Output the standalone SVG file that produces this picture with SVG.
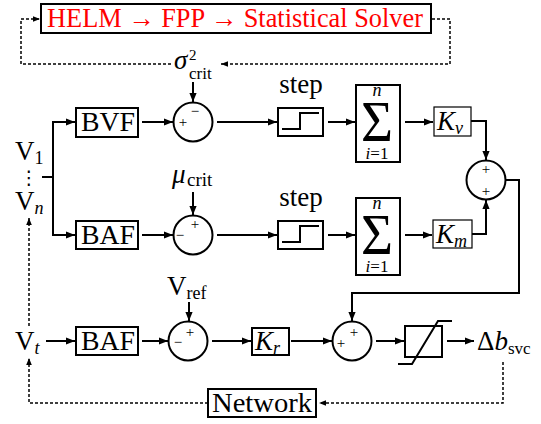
<svg xmlns="http://www.w3.org/2000/svg" width="541" height="424" viewBox="0 0 541 424">
<style>
.box{fill:#fff;stroke:#000;stroke-width:2}
.thin{stroke-width:1.2}
.ln{fill:none;stroke:#000;stroke-width:2}
.dash{fill:none;stroke:#000;stroke-width:1.5;stroke-dasharray:3 2}
.t{font-family:"Liberation Serif",serif;font-size:27px;fill:#000}
.s{font-size:18px}
.i{font-style:italic}
.sg{font-family:"Liberation Serif",serif;font-size:15px;fill:#000;text-anchor:middle}
.m{text-anchor:middle}
.big{font-size:56px}
.lim{font-size:17px}
</style>
<defs>
<marker id="ah" viewBox="0 0 10 8" refX="10" refY="4" markerWidth="9" markerHeight="7.2" markerUnits="userSpaceOnUse" orient="auto"><path d="M0,0 L10,4 L0,8 z" fill="#000"/></marker>
<marker id="ahd" viewBox="0 0 10 8" refX="10" refY="4" markerWidth="7" markerHeight="5.6" markerUnits="userSpaceOnUse" orient="auto"><path d="M0,0 L10,4 L0,8 z" fill="#000"/></marker>
</defs>

<g id="connectors">
<path class="ln" d="M42,177 H53"/>
<path class="ln" d="M53,177 V122 H75" marker-end="url(#ah)"/>
<path class="ln" d="M53,177 V235 H75" marker-end="url(#ah)"/>
<path class="ln" d="M142,122 H173" marker-end="url(#ah)"/>
<path class="ln" d="M217,122 H277" marker-end="url(#ah)"/>
<path class="ln" d="M328,122 H355" marker-end="url(#ah)"/>
<path class="ln" d="M405,122 H433" marker-end="url(#ah)"/>
<path class="ln" d="M471,121 H486 V160" marker-end="url(#ah)"/>
<path class="ln" d="M193,82 V102" marker-end="url(#ah)"/>
<path class="ln" d="M142,235 H173" marker-end="url(#ah)"/>
<path class="ln" d="M193,192 V215" marker-end="url(#ah)"/>
<path class="ln" d="M217,235 H277" marker-end="url(#ah)"/>
<path class="ln" d="M328,235 H355" marker-end="url(#ah)"/>
<path class="ln" d="M405,235 H432" marker-end="url(#ah)"/>
<path class="ln" d="M472,234 H486 V200" marker-end="url(#ah)"/>
<path class="ln" d="M505,180 H519 V293 H352 V321" marker-end="url(#ah)"/>
<path class="ln" d="M46,341 H75" marker-end="url(#ah)"/>
<path class="ln" d="M142,341 H168" marker-end="url(#ah)"/>
<path class="ln" d="M189,302 V321" marker-end="url(#ah)"/>
<path class="ln" d="M212,341 H251" marker-end="url(#ah)"/>
<path class="ln" d="M291,341 H332" marker-end="url(#ah)"/>
<path class="ln" d="M376,341 H404" marker-end="url(#ah)"/>
<path class="ln" d="M447,341 H474" marker-end="url(#ah)"/>
<path class="dash" d="M432,19 H450 V64 H221" marker-end="url(#ahd)"/>
<path class="dash" d="M171,64 H21 V19 H40" marker-end="url(#ahd)"/>
<path class="dash" d="M503,362 V403 H319" marker-end="url(#ahd)"/>
<path class="dash" d="M208,403 H29 V358" marker-end="url(#ahd)"/>
<path class="dash" d="M29,326 V218" marker-end="url(#ahd)"/>
</g>

<g id="solver">
<rect class="box" x="41" y="4" width="390" height="29"/>
<text class="t" x="47" y="27" style="fill:#ff0000" textLength="376" lengthAdjust="spacingAndGlyphs">HELM → FPP → Statistical Solver</text>
</g>

<g id="sigma-crit">
<text class="t" x="174" y="69"><tspan class="i">σ</tspan><tspan x="189" y="60" style="font-size:15px">2</tspan><tspan x="189" y="79" style="font-size:17px">crit</tspan></text>
</g>

<g id="v-inputs">
<text class="t" x="15" y="160">V<tspan class="s" dy="4">1</tspan></text>
<text x="29" y="184" style="font-family:'DejaVu Sans',sans-serif;font-size:19px;text-anchor:middle">⋮</text>
<text class="t" x="15" y="210">V<tspan class="s i" dy="4">n</tspan></text>
</g>

<g id="bvf">
<rect class="box" x="76" y="108" width="62" height="29"/>
<text class="t m" x="108" y="131" textLength="54" lengthAdjust="spacingAndGlyphs">BVF</text>
</g>

<g id="sum-var">
<circle class="box" cx="193" cy="122" r="19.5"/>
<text class="sg" x="183" y="127">+</text>
<text class="sg" x="195" y="116">−</text>
</g>

<g id="step-var">
<text class="t m" x="301" y="93">step</text>
<rect class="box" x="278" y="108" width="45" height="28"/>
<path class="ln" d="M282,129 H300 V113 H319"/>
</g>

<g id="sigma-sum-var">
<rect class="box" x="356" y="85" width="44" height="77"/>
<text class="t s i m" x="377" y="96">n</text>
<text class="t m big" x="377" y="141" textLength="32" lengthAdjust="spacingAndGlyphs">Σ</text>
<text class="t m lim" x="377" y="159"><tspan class="i">i</tspan>=1</text>
</g>

<g id="kv">
<rect class="box thin" x="434" y="107" width="37" height="29"/>
<text class="t" x="437" y="130"><tspan class="i">K</tspan><tspan class="s i" dy="4">v</tspan></text>
</g>

<g id="mu-crit">
<text class="t" x="172" y="183"><tspan class="i">μ</tspan><tspan x="187" dy="3" style="font-size:19px">crit</tspan></text>
</g>

<g id="baf-mean">
<rect class="box" x="76" y="221" width="62" height="28"/>
<text class="t m" x="108" y="244" textLength="54" lengthAdjust="spacingAndGlyphs">BAF</text>
</g>

<g id="sum-mean">
<circle class="box" cx="193" cy="235" r="19.5"/>
<text class="sg" x="195" y="229">+</text>
<text class="sg" x="180" y="240">−</text>
</g>

<g id="step-mean">
<text class="t m" x="301" y="206">step</text>
<rect class="box" x="278" y="221" width="45" height="28"/>
<path class="ln" d="M282,242 H300 V226 H319"/>
</g>

<g id="sigma-sum-mean">
<rect class="box" x="356" y="198" width="44" height="77"/>
<text class="t s i m" x="377" y="209">n</text>
<text class="t m big" x="377" y="254" textLength="32" lengthAdjust="spacingAndGlyphs">Σ</text>
<text class="t m lim" x="377" y="272"><tspan class="i">i</tspan>=1</text>
</g>

<g id="km">
<rect class="box thin" x="433" y="220" width="39" height="28"/>
<text class="t" x="436" y="243"><tspan class="i">K</tspan><tspan class="s i" dy="4">m</tspan></text>
</g>

<g id="sum-combine">
<circle class="box" cx="486" cy="180" r="19.5"/>
<text class="sg" x="486" y="174">+</text>
<text class="sg" x="486" y="196">+</text>
</g>

<g id="vt">
<text class="t" x="15" y="350">V<tspan class="s i" dy="4">t</tspan></text>
</g>

<g id="baf-term">
<rect class="box" x="76" y="327" width="62" height="28"/>
<text class="t m" x="108" y="350" textLength="54" lengthAdjust="spacingAndGlyphs">BAF</text>
</g>

<g id="vref">
<text class="t" x="167" y="295">V<tspan class="s" dy="4">ref</tspan></text>
</g>

<g id="sum-ref">
<circle class="box" cx="188" cy="341" r="19.5"/>
<text class="sg" x="190" y="337">+</text>
<text class="sg" x="178" y="347">−</text>
</g>

<g id="kr">
<rect class="box" x="252" y="328" width="37" height="27"/>
<text class="t" x="255" y="350"><tspan class="i">K</tspan><tspan class="s i" dy="4">r</tspan></text>
</g>

<g id="sum-out">
<circle class="box" cx="352" cy="341" r="19.5"/>
<text class="sg" x="354" y="337">+</text>
<text class="sg" x="341" y="348">+</text>
</g>

<g id="limiter">
<rect class="box" x="405" y="326" width="37" height="31"/>
<path class="ln" d="M398,364 H412 L438,321 H452"/>
</g>

<g id="delta-b">
<text class="t" x="477" y="350">Δ<tspan class="i">b</tspan><tspan class="s" dy="4" style="font-size:17px">svc</tspan></text>
</g>

<g id="network">
<rect class="box" x="208" y="389" width="108" height="28"/>
<text class="t m" x="262" y="412" textLength="100" lengthAdjust="spacingAndGlyphs">Network</text>
</g>
</svg>
